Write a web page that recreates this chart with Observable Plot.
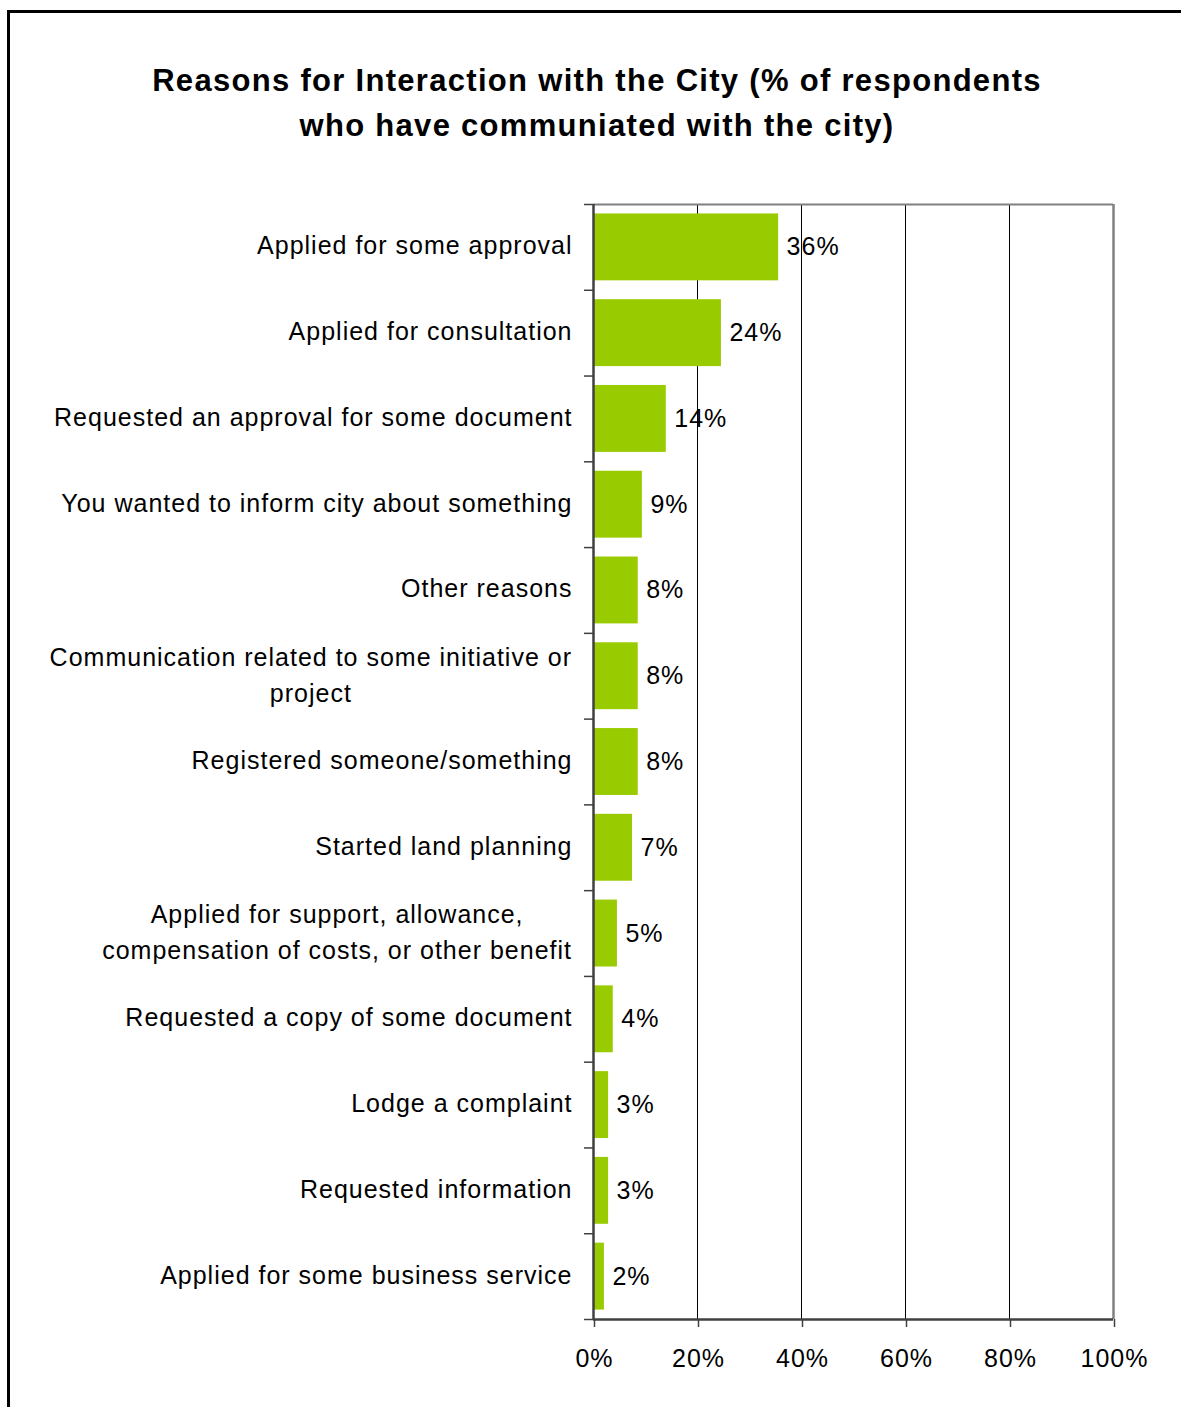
<!DOCTYPE html>
<html>
<head>
<meta charset="utf-8">
<script src="https://cdn.jsdelivr.net/npm/d3@7"></script>
<script src="https://cdn.jsdelivr.net/npm/@observablehq/plot@0.6"></script>
<style>
  html, body { margin: 0; padding: 0; background: #fff; }
  body { width: 1181px; height: 1407px; overflow: hidden; position: relative; font-family: Arial, "Liberation Sans", sans-serif; }
  #frame { position: absolute; left: 7px; top: 10px; width: 1300px; height: 1500px; border: 3px solid #000; box-sizing: border-box; pointer-events: none; }
  #title { box-sizing: border-box; height: 180px; padding-top: 58px; padding-left: 13px; width: 1181px; text-align: center; font-weight: bold; font-size: 31px; letter-spacing: 1.3px; line-height: 45px; color: #000; }
  #chart svg { display: block; }
  #chart svg text { letter-spacing: 1px; }
</style>
</head>
<body>
<div id="frame"></div>
<div id="title">Reasons for Interaction with the City (% of respondents<br>who have communiated with the city)</div>
<div id="chart"></div>
<script>
const categories = [
  "Applied for some approval",
  "Applied for consultation",
  "Requested an approval for some document",
  "You wanted to inform city about something",
  "Other reasons",
  "Communication related to some initiative or\nproject",
  "Registered someone/something",
  "Started land planning",
  "Applied for support, allowance,\ncompensation of costs, or other benefit",
  "Requested a copy of some document",
  "Lodge a complaint",
  "Requested information",
  "Applied for some business service"
];
const values = [35.6, 24.6, 14.0, 9.4, 8.6, 8.6, 8.6, 7.5, 4.6, 3.8, 2.9, 2.9, 2.1];
const valueLabels = ["36%", "24%", "14%", "9%", "8%", "8%", "8%", "7%", "5%", "4%", "3%", "3%", "2%"];
const xTicks = [0, 20, 40, 60, 80, 100];

const data = categories.map((c, i) => ({category: c, value: values[i], label: valueLabels[i], idx: i}));

const FONT = "Arial, 'Liberation Sans', sans-serif";
const FS = 25;
const LS = 1;
const canvas = document.createElement("canvas");
const ctx = canvas.getContext("2d");
ctx.font = `${FS}px ${FONT}`;
const blockWidth = s => Math.max(...s.split("\n").map(l => ctx.measureText(l).width + LS * (l.length - 1)));

const single = data.filter(d => !d.category.includes("\n"));
const multi = data.filter(d => d.category.includes("\n"));

const width = 1181, height = 1227;
const plot = Plot.plot({
  width, height,
  marginLeft: 593, marginRight: 68, marginTop: 24, marginBottom: 88,
  style: {fontFamily: FONT, fontSize: FS + "px", color: "#000", background: "#fff"},
  x: {domain: [0, 100], axis: null, label: null},
  y: {domain: [0, categories.length], reverse: true, axis: null, label: null},
  marks: [
    Plot.ruleX(xTicks.filter(t => t > 0 && t < 100), {stroke: "#000", strokeWidth: 1}),
    Plot.ruleY([0], {stroke: "#808080", strokeWidth: 2}),
    Plot.ruleX([100], {stroke: "#808080", strokeWidth: 2.5}),
    Plot.rectX(data, {x1: 0, x2: "value", y1: d => d.idx + 0.11, y2: d => d.idx + 0.89, fill: "#99CC00"}),
    Plot.ruleX([0], {stroke: "#404040", strokeWidth: 2.5}),
    Plot.ruleY([categories.length], {stroke: "#404040", strokeWidth: 2.5}),
    Plot.axisY({ticks: d3.range(0, categories.length + 1), tickSize: 9, tickFormat: () => "", stroke: "#404040", strokeWidth: 1.5, label: null}),
    Plot.axisX({ticks: xTicks, tickSize: 8, tickPadding: 22, tickFormat: d => d + "%", stroke: "#404040", strokeWidth: 1.5, fontSize: FS, fill: "#000", label: null, dx: 1}),
    Plot.text(data, {x: "value", y: d => d.idx + 0.5, text: "label", textAnchor: "start", dx: 8, fontSize: FS, fill: "#000"}),
    Plot.text(single, {x: 0, y: d => d.idx + 0.5, text: "category", textAnchor: "end", dx: -21, dy: -1, fontSize: FS, fill: "#000"}),
    ...multi.map(d => Plot.text([d], {x: 0, y: d => d.idx + 0.5, text: "category", textAnchor: "middle", lineHeight: 1.45, lineAnchor: "middle", dx: -(22 + blockWidth(d.category) / 2), dy: -4, fontSize: FS, fill: "#000"}))
  ]
});
document.getElementById("chart").appendChild(plot);
</script>
</body>
</html>
